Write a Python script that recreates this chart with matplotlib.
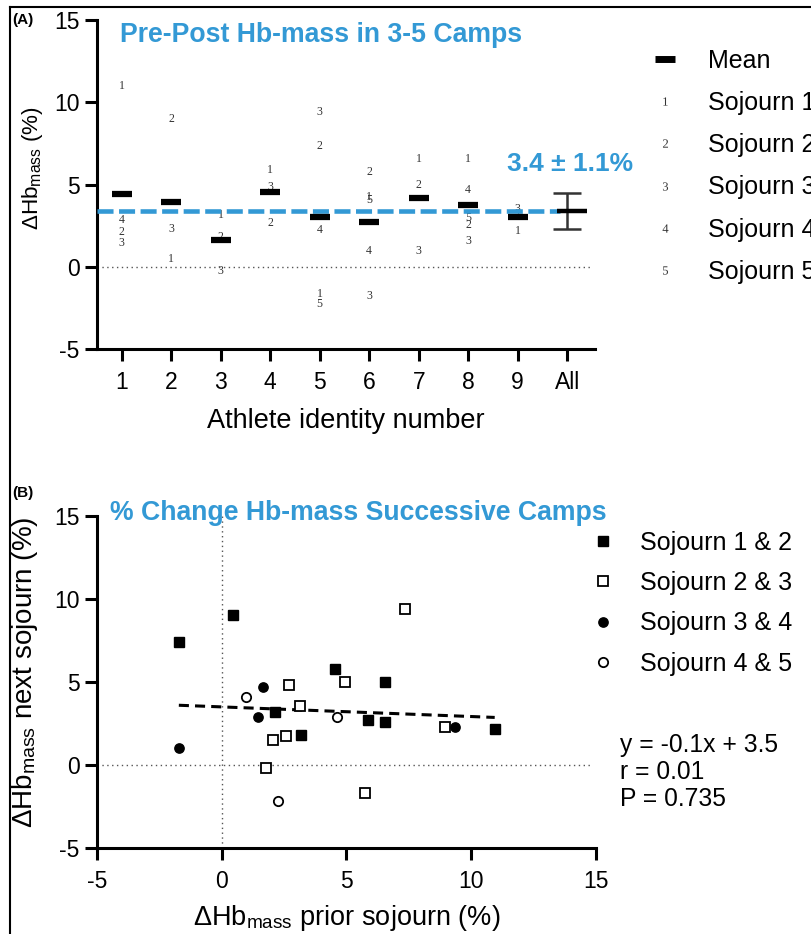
import numpy as np
import matplotlib
matplotlib.use("Agg")
import matplotlib.pyplot as plt
from matplotlib.lines import Line2D

plt.rcParams['font.family'] = ['Liberation Sans', 'DejaVu Sans']
plt.rcParams['mathtext.fontset'] = 'custom'
plt.rcParams['mathtext.rm'] = 'Liberation Serif'
plt.rcParams['mathtext.it'] = 'Liberation Serif'
plt.rcParams['axes.unicode_minus'] = False

BLUE = '#3399d5'

# Panel A: % change in Hb-mass per athlete for each sojourn (nan = no camp)
athletes = ['1', '2', '3', '4', '5', '6', '7', '8', '9']
sojourn1 = [11.0, 0.47, 3.16, 5.9, -1.66, 4.24, 6.57, 6.57, 2.15]
sojourn2 = [2.09, 8.98, 1.84, 2.65, 7.36, 5.76, 4.94, 2.51, 3.2]
sojourn3 = [1.44, 2.29, -0.24, 4.82, 9.4, -1.8, 0.93, 1.58, 3.5]
sojourn4 = [2.86, np.nan, np.nan, np.nan, 2.25, 0.93, np.nan, 4.64, np.nan]
sojourn5 = [np.nan, np.nan, np.nan, np.nan, -2.25, 4.03, np.nan, 2.96, np.nan]
athlete_means = [4.44, 3.91, 1.62, 4.54, 3.02, 2.71, 4.21, 3.73, 3.02]
group_mean = 3.4
group_sd = 1.1

# Panel B: change in prior sojourn vs next sojourn
s12_x = [-1.72, 0.47, 2.15, 3.16, 4.55, 5.87, 6.55, 6.55, 10.94]
s12_y = [7.41, 9.02, 3.19, 1.83, 5.80, 2.71, 5.00, 2.61, 2.15]
s23_x = [1.78, 2.06, 2.57, 2.68, 3.14, 4.95, 5.76, 7.36, 8.95]
s23_y = [-0.16, 1.53, 1.73, 4.82, 3.54, 5.02, -1.66, 9.42, 2.31]
s34_x = [-1.72, 1.47, 1.65, 9.35]
s34_y = [1.02, 2.89, 4.70, 2.31]
s45_x = [0.98, 2.26, 4.63]
s45_y = [4.12, -2.17, 2.92]
reg_slope = -0.058
reg_intercept = 3.5


def style(ax):
    for s in ['top', 'right']:
        ax.spines[s].set_visible(False)
    for s in ['left', 'bottom']:
        ax.spines[s].set_linewidth(2.2)
    ax.tick_params(width=2.2, length=8.5, labelsize=16.5)
    ax.tick_params(axis='x', pad=7)
    ax.tick_params(axis='y', pad=4)


fig = plt.figure(figsize=(8.11, 9.34), dpi=100)

# frame lines around the figure
fig.add_artist(Line2D([0.0123, 0.0123], [0, 0.9925], color='k', lw=1.5))
fig.add_artist(Line2D([0.0123, 1], [0.9925, 0.9925], color='k', lw=1.5))

# ---------------- Panel A ----------------
axA = fig.add_axes([0.1196, 0.6263, 0.614, 0.3523])
style(axA)
xpos = np.arange(1, len(athletes) + 1)
sojourns = [sojourn1, sojourn2, sojourn3, sojourn4, sojourn5]
for k, vals in enumerate(sojourns, start=1):
    for x, v in zip(xpos, vals):
        if not np.isnan(v):
            axA.text(x, v, str(k), ha='center', va='center', fontsize=8.5,
                     family='Liberation Serif', color='#333333', zorder=2)
axA.plot(xpos, athlete_means, ls='none', marker='_', ms=14.5, mew=4.5,
         color='k', zorder=5)
axA.errorbar([10], [group_mean], yerr=[group_sd], capsize=10, color='#333333',
             lw=1.8, capthick=1.8, zorder=3)
axA.plot([10.1], [group_mean], marker='_', ms=21, mew=3.2, color='k', zorder=5)
axA.hlines(group_mean, 0.5, 9.85, colors=BLUE, lw=3.3,
           linestyles=(0, (3.5, 1.2)), zorder=4)
axA.hlines(0, 0.5, 10.45, colors='#555555', lw=1, linestyles=(0, (1, 2.5)))
axA.set_xlim(0.5, 10.56)
axA.set_ylim(-5, 15)
axA.set_xticks(range(1, 11))
axA.set_xticklabels(athletes + ['All'])
axA.set_yticks([-5, 0, 5, 10, 15])
axA.set_xlabel('Athlete identity number', fontsize=19.5)
axA.set_ylabel(r'ΔHb$_{\mathregular{mass}}$ (%)', fontsize=16.2)
axA.xaxis.set_label_coords(0.5, -0.18)
axA.yaxis.set_label_coords(-0.105, 0.549)
axA.text(0.046, 0.954, 'Pre-Post Hb-mass in 3-5 Camps', transform=axA.transAxes,
         color=BLUE, fontsize=19.2, fontweight='bold', va='center')
axA.text(8.78, 6.26, '3.4 ± 1.1%', color=BLUE, fontsize=19, fontweight='bold',
         va='center', ha='left')

handlesA = [Line2D([], [], ls='none', marker='_', ms=15, mew=5, color='k')]
handlesA += [Line2D([], [], ls='none', marker='$%d$' % k, ms=6, mew=0,
                    color='#333333') for k in range(1, 6)]
labelsA = ['Mean'] + ['Sojourn %d' % k for k in range(1, 6)]
axA.legend(handlesA, labelsA, loc='upper left', bbox_to_anchor=(0.805, 0.948),
           bbox_transform=fig.transFigure, frameon=False, fontsize=18,
           handlelength=1.0, handletextpad=1.2, labelspacing=0.73,
           borderpad=0, borderaxespad=0)

# ---------------- Panel B ----------------
axB = fig.add_axes([0.1196, 0.0921, 0.6153, 0.3554])
style(axB)
axB.axvline(0, color='#555555', lw=1, ls=(0, (1, 2.5)), zorder=1)
axB.hlines(0, -5, 14.75, colors='#555555', lw=1, linestyles=(0, (1, 2.5)), zorder=1)
ms = 6.7
axB.plot(s12_x, s12_y, ls='none', marker='s', ms=ms, color='k', label='Sojourn 1 & 2', zorder=3)
axB.plot(s23_x, s23_y, ls='none', marker='s', ms=ms, mfc='white', mec='k', mew=1.3,
         label='Sojourn 2 & 3', zorder=3)
axB.plot(s34_x, s34_y, ls='none', marker='o', ms=ms, color='k', label='Sojourn 3 & 4', zorder=3)
axB.plot(s45_x, s45_y, ls='none', marker='o', ms=ms, mfc='white', mec='k', mew=1.3,
         label='Sojourn 4 & 5', zorder=3)
all_x = s12_x + s23_x + s34_x + s45_x
xr = np.array([min(all_x), max(all_x)])
axB.plot(xr, reg_slope * xr + reg_intercept, color='k', lw=2.2, ls=(0, (3.3, 2)), zorder=2)
axB.set_xlim(-5, 15)
axB.set_ylim(-5, 15)
axB.set_xticks([-5, 0, 5, 10, 15])
axB.set_yticks([-5, 0, 5, 10, 15])
axB.set_xlabel(r'ΔHb$_{\mathregular{mass}}$ prior sojourn (%)', fontsize=19.5)
axB.set_ylabel(r'ΔHb$_{\mathregular{mass}}$ next sojourn (%)', fontsize=20)
axB.xaxis.set_label_coords(0.5, -0.165)
axB.yaxis.set_label_coords(-0.114, 0.53)
axB.text(0.026, 1.009, '% Change Hb-mass Successive Camps', transform=axB.transAxes,
         color=BLUE, fontsize=19.2, fontweight='bold', va='center')
axB.text(1.048, 0.229, 'y = -0.1x + 3.5\nr = 0.01\nP = 0.735', transform=axB.transAxes,
         fontsize=17.7, va='center', ha='left', linespacing=1.18)
axB.legend(loc='upper left', bbox_to_anchor=(0.7275, 0.4315),
           bbox_transform=fig.transFigure, frameon=False, fontsize=18,
           handlelength=1.0, handletextpad=1.0, labelspacing=0.65,
           borderpad=0, borderaxespad=0)

fig.text(12 / 811, 1 - 20 / 934, '(A)', fontsize=11, fontweight='bold', va='center')
fig.text(12 / 811, 1 - 493 / 934, '(B)', fontsize=11, fontweight='bold', va='center')

fig.savefig('out.png', dpi=100)
